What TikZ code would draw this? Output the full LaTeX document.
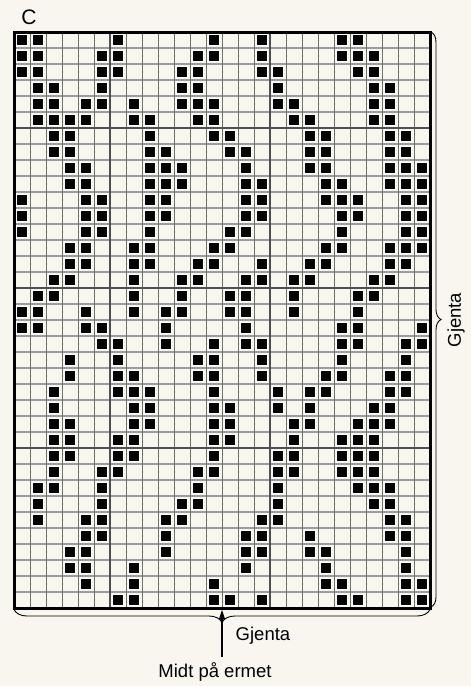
\documentclass[tikz,border=0pt]{standalone}
\usepackage{fontspec}
\setmainfont{Liberation Sans}
\usetikzlibrary{decorations.pathreplacing,arrows.meta}
\definecolor{paper}{HTML}{F8F6EF}
\definecolor{minorv}{HTML}{6E6E6E}
\definecolor{minorh}{HTML}{9C9C9C}
\definecolor{majorline}{HTML}{505050}
\begin{document}
\begin{tikzpicture}[x=1pt,y=-1pt,
  vline/.style={minorv, line width=1pt},
  hline/.style={minorh, line width=1.4pt},
  majline/.style={majorline, line width=1.8pt},
  frame/.style={black, line width=3pt},
  stitch/.style={fill=black, draw=white, line width=1pt},
  lbl/.style={font=\fontsize{18.5}{21}\selectfont, inner sep=0pt, text=black},
  bracestyle/.style={decorate, line width=0.9pt},
  arrowstyle/.style={-{Triangle[length=10pt,width=6pt]}, line width=1.6pt}]
\fill[paper] (0,0) rectangle (471,686);
\useasboundingbox (0,0) rectangle (471,686);
% grid lines
\foreach \r in {1,...,35} \draw[hline] (14,32+16*\r) -- (430,32+16*\r);
\foreach \c in {1,...,25} \draw[vline] (14+16*\c,32) -- (14+16*\c,608);
\foreach \r in {6,16,26} \draw[majline] (14,32+16*\r) -- (430,32+16*\r);
\foreach \c in {6,16} \draw[majline] (14+16*\c,32) -- (14+16*\c,608);
% filled stitches
\foreach \r/\cs in {
 1/{1,2,7,13,16,21,22},
 2/{1,2,6,7,12,13,16,21,22,23},
 3/{1,2,6,7,11,12,16,17,22,23},
 4/{2,3,6,11,12,17,23,24},
 5/{2,3,5,6,8,11,12,13,17,18,23,24},
 6/{2,3,4,5,8,9,12,13,18,19,23,24},
 7/{3,4,9,13,14,19,20,24,25},
 8/{3,4,9,10,14,15,19,20,24,25},
 9/{4,5,9,10,11,15,19,20,24,25,26},
 10/{4,5,9,10,11,15,16,20,21,24,25,26},
 11/{1,5,6,9,10,15,16,20,21,22,25,26},
 12/{1,5,6,9,10,15,16,21,22,25,26},
 13/{1,5,6,9,14,15,21,25,26},
 14/{4,5,8,9,13,14,20,21,24,25,26},
 15/{4,5,8,9,12,13,16,19,20,24,25},
 16/{3,4,8,11,12,15,16,18,19,23,24},
 17/{2,3,8,11,14,15,18,22,23},
 18/{1,2,5,8,10,11,14,15,18,22},
 19/{1,2,5,6,10,15,21,22,26},
 20/{6,7,10,13,15,16,21,22,25,26},
 21/{4,7,12,13,16,21,25},
 22/{4,7,8,12,13,16,20,21,24,25},
 23/{3,7,8,9,13,17,19,20,24,25},
 24/{3,8,9,13,14,17,19,23,24},
 25/{3,4,8,9,13,14,18,19,22,23,24},
 26/{3,4,7,8,13,14,18,21,22,23},
 27/{3,4,7,8,13,17,18,21,22,23},
 28/{3,6,7,12,13,17,18,21,22,23},
 29/{2,3,6,12,17,22,23,24},
 30/{2,6,11,12,17,23,24},
 31/{2,5,6,10,11,16,17,24,25},
 32/{5,6,10,15,16,19,24,25},
 33/{4,5,10,15,16,19,20,25},
 34/{4,5,8,15,20,25},
 35/{5,8,13,20,21,25,26},
 36/{7,8,13,14,16,21,22,25,26}}{
  \foreach \c in \cs {
    \filldraw[stitch] (16*\c+0.25,16*\r+18.25) rectangle (16*\c+11.75,16*\r+29.75);
  }
}
% frame
\draw[frame] (14,32) rectangle (430,608);
% braces
\coordinate (rtop) at (431,32);
\coordinate (rbot) at (431,607);
\draw[bracestyle, decoration={brace, amplitude=10pt}] (rtop) -- (rbot);
\coordinate (bright) at (430,609.5);
\coordinate (bleft) at (14,609.5);
\draw[bracestyle, decoration={brace, amplitude=13pt}] (bright) -- (bleft);
% labels
\node[lbl, font=\fontsize{21}{24}\selectfont] (title) at (29,17) {C};
\node[lbl, rotate=90] (gjentaR) at (456,320) {Gjenta};
\node[lbl] (gjentaB) at (263,636) {Gjenta};
\node[lbl] (midt) at (215,672) {Midt på ermet};
% arrow
\coordinate (atip) at (222,609.5);
\coordinate (atail) at (222,657);
\draw[arrowstyle] (atail) -- (atip);
\end{tikzpicture}
\end{document}
